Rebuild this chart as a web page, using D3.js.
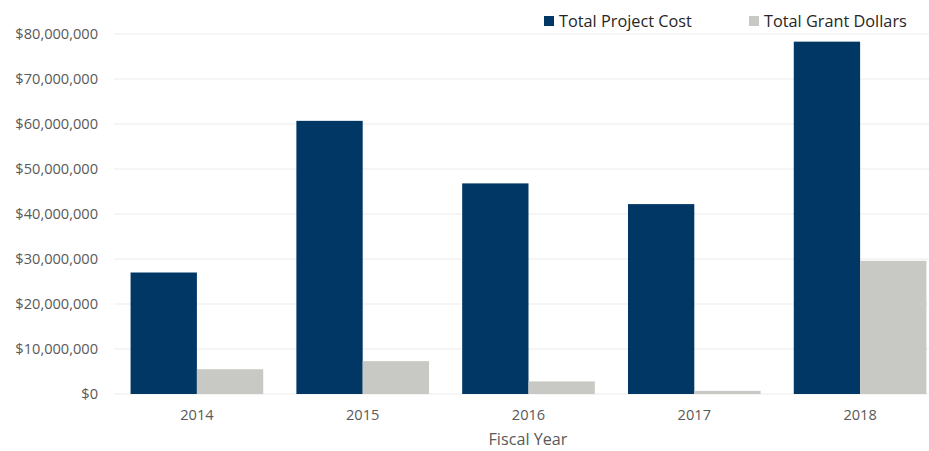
<!DOCTYPE html>
<html>
<head>
<meta charset="utf-8">
<script src="https://cdn.jsdelivr.net/npm/d3@7"></script>
<style>
  html, body { margin: 0; padding: 0; background: #fff; }
  svg { display: block; font-family: "Open Sans", "Noto Sans", sans-serif; }
</style>
</head>
<body>
<svg id="chart" width="929" height="451"></svg>
<script>
// Fiscal years and dollar totals per series
const years = ["2014", "2015", "2016", "2017", "2018"];
const seriesNames = ["Total Project Cost", "Total Grant Dollars"];
const projectCost = [27000000, 60700000, 46800000, 42200000, 78300000];
const grantDollars = [5500000, 7300000, 2800000, 700000, 29600000];
const yTicks = [0, 10000000, 20000000, 30000000, 40000000, 50000000, 60000000, 70000000, 80000000];
const colors = ["#003764", "#c8c8c4"];

const svg = d3.select("#chart");
const margin = { left: 114, right: -14, top: 34, bottom: 57 };
const W = 929, H = 451;

const x = d3.scaleBand()
  .domain(years)
  .range([margin.left, W - margin.right])
  .paddingInner(0.2)
  .paddingOuter(0.1);

const xSub = d3.scaleBand()
  .domain(seriesNames)
  .range([0, x.bandwidth()]);

const y = d3.scaleLinear()
  .domain([0, 80000000])
  .range([H - margin.bottom, margin.top]);

// Horizontal gridlines
svg.append("g")
  .selectAll("line")
  .data(yTicks)
  .join("line")
  .attr("x1", margin.left)
  .attr("x2", W)
  .attr("y1", d => y(d))
  .attr("y2", d => y(d))
  .attr("stroke", "#ececec")
  .attr("stroke-width", 1.2);

// Y axis labels
const fmt = d => "$" + d3.format(",")(d);
const yAxis = svg.append("g")
  .attr("transform", `translate(${margin.left - 16},0)`)
  .call(d3.axisLeft(y).tickValues(yTicks).tickFormat(fmt).tickSize(0).tickPadding(0));
yAxis.select(".domain").remove();
yAxis.selectAll("text")
  .attr("fill", "#595959")
  .attr("font-size", "14.6px")
  .attr("font-family", "\"Open Sans\", sans-serif");

// Bars
const rows = years.map((yr, i) => ({ year: yr, values: [projectCost[i], grantDollars[i]] }));
svg.append("g")
  .selectAll("g")
  .data(rows)
  .join("g")
  .attr("transform", d => `translate(${x(d.year)},0)`)
  .selectAll("rect")
  .data(d => d.values.map((v, k) => ({ key: seriesNames[k], value: v, k })))
  .join("rect")
  .attr("x", d => xSub(d.key))
  .attr("width", xSub.bandwidth())
  .attr("y", d => y(d.value))
  .attr("height", d => y(0) - y(d.value))
  .attr("fill", d => colors[d.k]);

// X axis labels
const xAxis = svg.append("g")
  .attr("transform", `translate(0,${y(0) + 16})`)
  .call(d3.axisBottom(x).tickSize(0).tickPadding(0));
xAxis.select(".domain").remove();
xAxis.selectAll("text")
  .attr("fill", "#595959")
  .attr("font-size", "14.6px")
  .attr("font-family", "\"Open Sans\", sans-serif");

// X axis title
svg.append("text")
  .attr("x", 528)
  .attr("y", 445)
  .attr("text-anchor", "middle")
  .attr("fill", "#595959")
  .attr("font-size", "16.2px")
  .text("Fiscal Year");

// Legend
const legendX = [544, 749];
const legend = svg.append("g")
  .selectAll("g")
  .data(seriesNames)
  .join("g")
  .attr("transform", (d, i) => `translate(${legendX[i]},14)`);
legend.append("rect")
  .attr("width", 10)
  .attr("height", 10)
  .attr("y", 2)
  .attr("fill", (d, i) => colors[i]);
legend.append("text")
  .attr("x", 15)
  .attr("y", 12.5)
  .attr("fill", "#262626")
  .attr("font-size", "16.3px")
  .text(d => d);
</script>
</body>
</html>
